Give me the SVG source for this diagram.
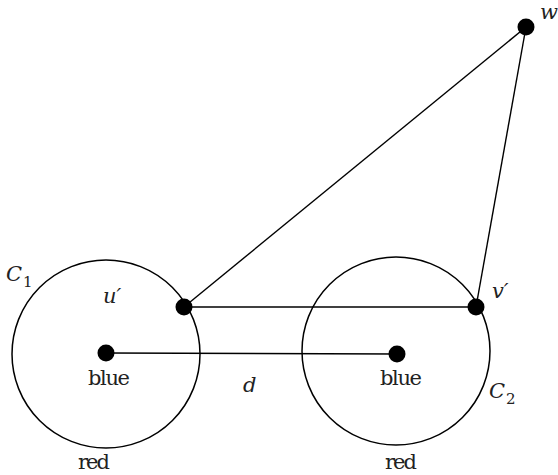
<svg xmlns="http://www.w3.org/2000/svg" width="558" height="475" viewBox="0 0 558 475">
<style>
.c{fill:none;stroke:#000;stroke-width:1.5}
.e{stroke:#000;stroke-width:1.4;fill:none}
.v{fill:#000}
.t{font-family:'DejaVu Serif','Liberation Serif',serif;font-size:21px;fill:#222}
.m{font-family:'DejaVu Serif','Liberation Serif',serif;font-style:italic;font-size:21px;fill:#222}
.s{font-family:'DejaVu Serif','Liberation Serif',serif;font-size:15px;fill:#222}
</style>
<rect width="558" height="475" fill="#fff"/>
<g id="C1">
<circle class="c" cx="106" cy="354" r="94"/>
<text class="m" x="6" y="281">C</text><text class="s" x="23" y="287">1</text>
<text class="t" x="94" y="469" text-anchor="middle" textLength="32">red</text>
</g>
<g id="C2">
<circle class="c" cx="396" cy="351" r="94"/>
<text class="m" x="489" y="398">C</text><text class="s" x="506" y="404">2</text>
<text class="t" x="401" y="469" text-anchor="middle" textLength="32">red</text>
</g>
<g id="edges">
<line class="e" x1="184" y1="307" x2="526" y2="27"/>
<line class="e" x1="184" y1="307" x2="476" y2="307"/>
<line class="e" x1="476" y1="307" x2="526" y2="27"/>
<line class="e" x1="106" y1="353" x2="397" y2="354"/>
<text class="m" x="243" y="392">d</text>
</g>
<g id="blue1">
<circle class="v" cx="106" cy="353" r="8.5"/>
<text class="t" x="109" y="385" text-anchor="middle" textLength="42">blue</text>
</g>
<g id="blue2">
<circle class="v" cx="397" cy="354" r="8.5"/>
<text class="t" x="401" y="385" text-anchor="middle" textLength="42">blue</text>
</g>
<g id="u">
<circle class="v" cx="184" cy="307" r="8.5"/>
<text class="m" x="103" y="303">u′</text>
</g>
<g id="v">
<circle class="v" cx="476" cy="307" r="8.5"/>
<text class="m" x="492" y="298">v′</text>
</g>
<g id="w">
<circle class="v" cx="526" cy="27" r="8.5"/>
<text class="m" x="540" y="19">w</text>
</g>
</svg>
